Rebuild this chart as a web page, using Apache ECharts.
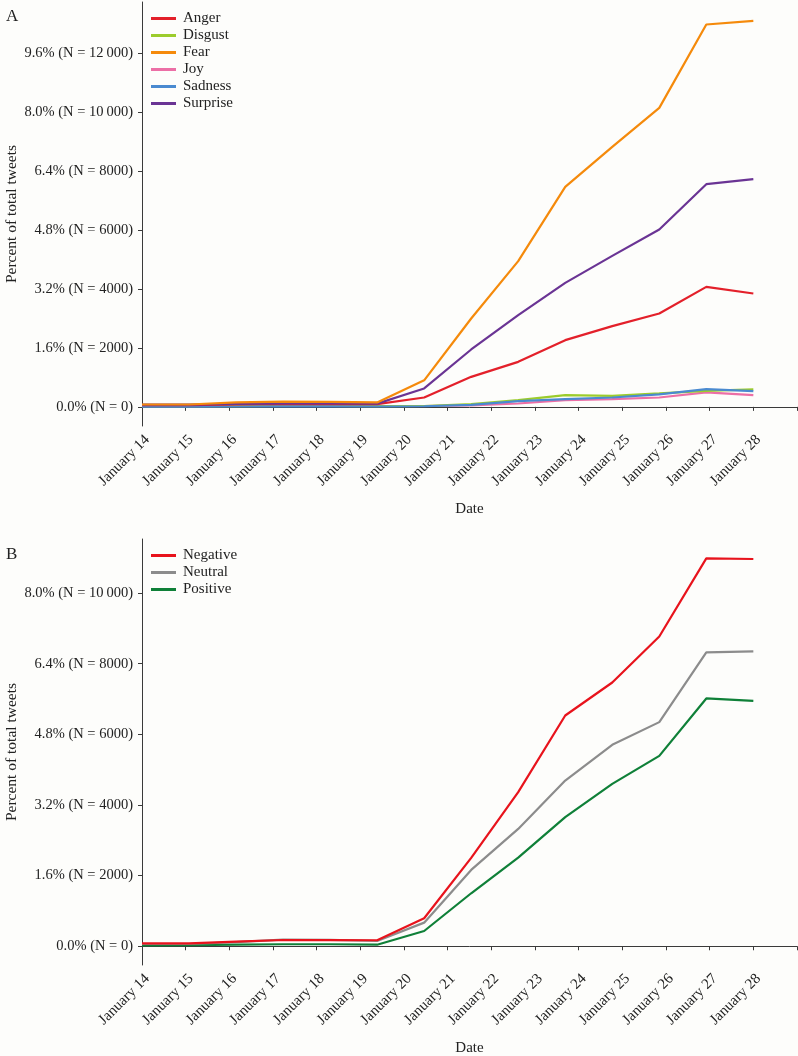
<!DOCTYPE html>
<html>
<head>
<meta charset="utf-8">
<script src="https://cdn.jsdelivr.net/npm/echarts@6/dist/echarts.min.js"></script>
<style>
html,body{margin:0;padding:0;background:#fdfdfb;}
#chart{width:798px;height:1056px;}
</style>
</head>
<body>
<div id="chart"></div>
<script>
// ---- Data ----
var dateLabels = ['January 14','January 15','January 16','January 17','January 18','January 19','January 20',
  'January 21','January 22','January 23','January 24','January 25','January 26','January 27','January 28'];

// Panel A: emotions (tweet counts, 14 observations)
var anger    = [60, 55, 80, 100, 95, 90, 318, 1019, 1528, 2265, 2741, 3172, 4075, 3851];
var disgust  = [20, 20, 25, 30, 30, 25, 30, 92, 228, 397, 374, 455, 543, 591];
var fear     = [80, 80, 150, 180, 170, 150, 900, 3002, 4948, 7471, 8830, 10154, 12986, 13108];
var joy      = [25, 25, 30, 35, 35, 30, 30, 48, 115, 228, 261, 318, 489, 397];
var sadness  = [10, 10, 12, 15, 15, 12, 20, 68, 194, 261, 318, 421, 601, 533];
var surprise = [75, 75, 100, 115, 115, 110, 625, 1949, 3114, 4211, 5128, 6024, 7563, 7733];

// Panel B: sentiment (tweet counts)
var negative = [85, 80, 130, 178, 175, 170, 793, 2501, 4363, 6533, 7468, 8771, 10981, 10964];
var neutral  = [65, 65, 120, 187, 180, 150, 669, 2162, 3323, 4692, 5703, 6346, 8318, 8346];
var positive = [28, 30, 45, 57, 57, 45, 433, 1501, 2511, 3654, 4598, 5391, 7016, 6950];

var yTicksA = [0, 2000, 4000, 6000, 8000, 10000, 12000];
var yTickLabelsA = ['0.0% (N = 0)','1.6% (N = 2000)','3.2% (N = 4000)','4.8% (N = 6000)','6.4% (N = 8000)','8.0% (N = 10\u2009000)','9.6% (N = 12\u2009000)'];
var yTicksB = [0, 2000, 4000, 6000, 8000, 10000];
var yTickLabelsB = ['0.0% (N = 0)','1.6% (N = 2000)','3.2% (N = 4000)','4.8% (N = 6000)','6.4% (N = 8000)','8.0% (N = 10\u2009000)'];

var namesA = ['Anger','Disgust','Fear','Joy','Sadness','Surprise'];
var colorsA = ['#e3202a','#9ccc2c','#f58a0b','#ec6fa6','#4a8ad0','#6a3494'];
var namesB = ['Negative','Neutral','Positive'];
var colorsB = ['#e8131c','#8c8c8c','#0f8038'];

// ---- Build ----
var FONT = 'Liberation Serif';
var nObs = anger.length;                 // 14 observations
var step = (nObs - 1) / (dateLabels.length - 1); // label spacing in observation units
var catLabels = dateLabels.concat(['']); // extra unlabeled tick at the end
var xMaxVal = step * (catLabels.length - 1);

function pairs(arr){ return arr.map(function(v,i){ return [i, v]; }); }
function labelMap(ticks, labels){ return function(v){ var i = ticks.indexOf(v); return i >= 0 ? labels[i] : ''; }; }

var axisColor = '#3a3a3a';
function catAxis(grid){
  return {
    type:'category', gridIndex:grid, data:catLabels, boundaryGap:false,
    name:'Date', nameLocation:'middle', nameGap:76, nameMoveOverlap:false,
    nameTextStyle:{fontFamily:FONT, fontSize:15, color:'#222'},
    axisLine:{lineStyle:{color:axisColor, width:1}},
    axisTick:{show:true, length:4, interval:0, lineStyle:{color:axisColor}},
    axisLabel:{interval:0, rotate:45, margin:6, verticalAlign:'top', fontFamily:FONT, fontSize:15, color:'#222'},
    splitLine:{show:false}
  };
}
function valXAxis(grid){
  return {type:'value', gridIndex:grid, min:0, max:xMaxVal, show:false};
}
function yAxis(grid, min, max, ticks, labels){
  return {
    type:'value', gridIndex:grid, min:min, max:max,
    name:'Percent of total tweets', nameLocation:'middle', nameGap:122, nameMoveOverlap:false,
    nameTextStyle:{fontFamily:FONT, fontSize:15.5, color:'#222'},
    axisLine:{show:true, lineStyle:{color:axisColor, width:1}},
    axisTick:{show:true, length:4, customValues:ticks, lineStyle:{color:axisColor}},
    axisLabel:{customValues:ticks, formatter:labelMap(ticks, labels), margin:9,
      fontFamily:FONT, fontSize:14.5, color:'#222'},
    splitLine:{show:false}
  };
}

var series = [];
namesA.forEach(function(n, k){
  series.push({name:n, type:'line', xAxisIndex:1, yAxisIndex:0, symbol:'none',
    data:pairs([anger,disgust,fear,joy,sadness,surprise][k]),
    lineStyle:{width:2.2, color:colorsA[k]}, itemStyle:{color:colorsA[k]}, z: 10-k});
});
namesB.forEach(function(n, k){
  series.push({name:n, type:'line', xAxisIndex:3, yAxisIndex:1, symbol:'none',
    data:pairs([negative,neutral,positive][k]),
    lineStyle:{width:2.2, color:colorsB[k]}, itemStyle:{color:colorsB[k]}, z: 10-k});
});
series[2].z = 12; series[5].z = 11; series[0].z = 10; series[1].z = 6; series[3].z = 5; series[4].z = 7;

var legendCommon = {
  orient:'vertical', icon:'rect', itemWidth:25, itemHeight:3, itemGap:2,
  textStyle:{fontFamily:FONT, fontSize:15, color:'#222', padding:[0,0,0,2]},
  padding:0
};

var option = {
  backgroundColor:'#fdfdfb',
  animation:false,
  title:[
    {text:'A', left:1, top:3, textStyle:{fontFamily:FONT, fontSize:17, fontWeight:'normal', color:'#222'}},
    {text:'B', left:1, top:541, textStyle:{fontFamily:FONT, fontSize:17, fontWeight:'normal', color:'#222'}}
  ],
  legend:[
    Object.assign({left:151, top:11, data:namesA}, legendCommon),
    Object.assign({left:151, top:548, itemGap:3, data:namesB}, legendCommon)
  ],
  grid:[
    {left:142, right:1, top:2, height:424, containLabel:false, outerBoundsMode:'none'},
    {left:142, right:1, top:539, height:426, containLabel:false, outerBoundsMode:'none'}
  ],
  xAxis:[catAxis(0), valXAxis(0), catAxis(1), valXAxis(1)],
  yAxis:[yAxis(0, -650, 13750, yTicksA, yTickLabelsA), yAxis(1, -530, 11530, yTicksB, yTickLabelsB)],
  series:series
};

var chart = echarts.init(document.getElementById('chart'), null, {renderer:'canvas'});
chart.setOption(option);
</script>
</body>
</html>
